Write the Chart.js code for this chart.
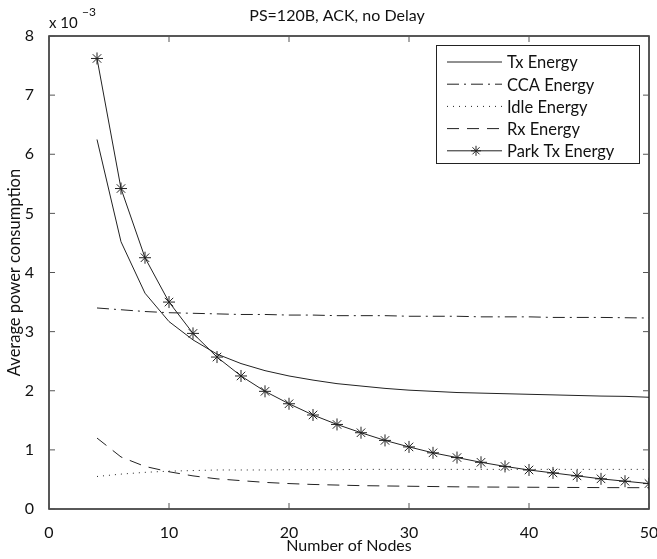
<!DOCTYPE html>
<html>
<head>
<meta charset="utf-8">
<script src="https://cdn.jsdelivr.net/npm/chart.js@4/dist/chart.umd.min.js"></script>
<style>
  html, body { margin: 0; padding: 0; background: #fff; }
  #wrap { width: 657px; height: 559px; }
</style>
</head>
<body>
<div id="wrap"><canvas id="myChart"></canvas></div>
<script>
// values in units of 1e-3
const nodes = [4, 6, 8, 10, 12, 14, 16, 18, 20, 22, 24, 26, 28, 30, 32, 34, 36, 38, 40, 42, 44, 46, 48, 50];
const txEnergy = [6.25, 4.52, 3.65, 3.17, 2.86, 2.62, 2.46, 2.34, 2.25, 2.18, 2.12, 2.08, 2.04, 2.01, 1.99, 1.97, 1.96, 1.95, 1.94, 1.93, 1.92, 1.91, 1.905, 1.89];
const ccaEnergy = [3.40, 3.37, 3.34, 3.32, 3.31, 3.30, 3.29, 3.29, 3.28, 3.28, 3.27, 3.27, 3.27, 3.26, 3.26, 3.26, 3.25, 3.25, 3.25, 3.24, 3.24, 3.24, 3.235, 3.23];
const idleEnergy = [0.55, 0.59, 0.62, 0.64, 0.65, 0.66, 0.66, 0.66, 0.665, 0.665, 0.665, 0.67, 0.67, 0.67, 0.67, 0.67, 0.67, 0.67, 0.67, 0.67, 0.67, 0.67, 0.67, 0.67];
const rxEnergy = [1.20, 0.88, 0.72, 0.63, 0.56, 0.51, 0.48, 0.45, 0.43, 0.415, 0.405, 0.395, 0.39, 0.385, 0.38, 0.375, 0.372, 0.37, 0.368, 0.366, 0.364, 0.362, 0.361, 0.36];
const parkTxEnergy = [7.62, 5.42, 4.25, 3.50, 2.97, 2.57, 2.25, 1.99, 1.78, 1.59, 1.43, 1.29, 1.16, 1.05, 0.95, 0.87, 0.79, 0.72, 0.66, 0.61, 0.56, 0.51, 0.47, 0.43];
const xTicks = [0, 10, 20, 30, 40, 50];
const yTicks = [0, 1, 2, 3, 4, 5, 6, 7, 8];

const FONT = 'Lato, "Open Sans", sans-serif';

const pts = arr => nodes.map((n, i) => ({ x: n, y: arr[i] }));

const frame = {
    id: 'frame',
    afterDraw(chart) {
        const { ctx, chartArea: a, scales } = chart;
        ctx.save();
        ctx.strokeStyle = '#222';
        ctx.lineWidth = 1.5;
        ctx.strokeRect(a.left, a.top, a.right - a.left, a.bottom - a.top);
        ctx.lineWidth = 1;
        ctx.strokeStyle = '#555';
        xTicks.forEach(v => {
            const x = scales.x.getPixelForValue(v);
            ctx.beginPath();
            ctx.moveTo(x, a.bottom); ctx.lineTo(x, a.bottom - 6);
            ctx.moveTo(x, a.top); ctx.lineTo(x, a.top + 6);
            ctx.stroke();
        });
        yTicks.forEach(v => {
            const y = scales.y.getPixelForValue(v);
            ctx.beginPath();
            ctx.moveTo(a.left, y); ctx.lineTo(a.left + 6, y);
            ctx.moveTo(a.right, y); ctx.lineTo(a.right - 6, y);
            ctx.stroke();
        });

        // title and exponent
        ctx.fillStyle = '#111';
        ctx.textAlign = 'center';
        ctx.textBaseline = 'middle';
        ctx.font = '16px ' + FONT;
        ctx.fillText('PS=120B, ACK, no Delay', 337, 16);
        ctx.textAlign = 'left';
        ctx.font = '15px ' + FONT;
        ctx.fillText('x 10', a.left, 23);
        ctx.font = '12px ' + FONT;
        ctx.fillText('\u22123', a.left + 33, 12);

        // legend
        const lx = 436, ly = 45, lw = 203, lh = 118;
        ctx.fillStyle = '#fff';
        ctx.fillRect(lx, ly, lw, lh);
        ctx.strokeStyle = '#222';
        ctx.lineWidth = 1;
        ctx.strokeRect(lx + 0.5, ly + 0.5, lw, lh);
        chart.data.datasets.forEach((ds, i) => {
            const y = ly + 17 + i * 22.2;
            ctx.save();
            ctx.strokeStyle = ds.borderColor;
            ctx.lineWidth = 1;
            ctx.setLineDash(ds.borderDash || []);
            ctx.beginPath();
            ctx.moveTo(lx + 11, y); ctx.lineTo(lx + 66, y);
            ctx.stroke();
            ctx.restore();
            if (ds.pointRadius > 0) {
                Chart.helpers.drawPoint(ctx, { pointStyle: 'star', radius: 5, borderWidth: 1 }, lx + 40, y);
            }
            ctx.fillStyle = '#111';
            ctx.font = '16.5px ' + FONT;
            ctx.fillText(ds.label, lx + 71, y + 1);
        });
        ctx.restore();
    }
};

const line = (label, arr, dash, extra) => Object.assign({
    label: label,
    data: pts(arr),
    borderColor: '#222',
    borderWidth: 1,
    borderDash: dash,
    pointRadius: 0,
    tension: 0,
    fill: false
}, extra || {});

new Chart(document.getElementById('myChart'), {
    type: 'line',
    data: {
        datasets: [
            line('Tx Energy', txEnergy, []),
            line('CCA Energy', ccaEnergy, [12, 5, 2, 5]),
            line('Idle Energy', idleEnergy, [1, 5]),
            line('Rx Energy', rxEnergy, [12, 8]),
            line('Park Tx Energy', parkTxEnergy, [], {
                pointRadius: 6,
                pointStyle: 'star',
                pointBorderColor: '#222',
                pointBorderWidth: 1
            })
        ]
    },
    options: {
        responsive: true,
        maintainAspectRatio: false,
        animation: false,
        layout: { padding: { top: 36, right: 8, left: 0, bottom: 0 } },
        scales: {
            x: {
                type: 'linear',
                min: 0,
                max: 50,
                afterBuildTicks: s => { s.ticks = xTicks.map(v => ({ value: v })); },
                afterFit: s => { s.height = 50; s.paddingRight = 0; s.paddingLeft = 0; },
                grid: { display: false },
                border: { display: false },
                ticks: { color: '#111', font: { family: FONT, size: 16 }, padding: 6, maxRotation: 0 },
                title: { display: true, text: 'Number of Nodes', color: '#111', font: { family: FONT, size: 16 }, padding: { top: 0, bottom: 4 } }
            },
            y: {
                min: 0,
                max: 8,
                afterBuildTicks: s => { s.ticks = yTicks.map(v => ({ value: v })); },
                afterFit: s => { s.width = 49; },
                grid: { display: false },
                border: { display: false },
                ticks: { color: '#111', font: { family: FONT, size: 16 }, padding: 7 },
                title: { display: true, text: 'Average power consumption', color: '#111', font: { family: FONT, size: 16.5 }, padding: { top: 5, bottom: 0 } }
            }
        },
        plugins: {
            legend: { display: false },
            tooltip: { enabled: false }
        }
    },
    plugins: [frame]
});
</script>
</body>
</html>
